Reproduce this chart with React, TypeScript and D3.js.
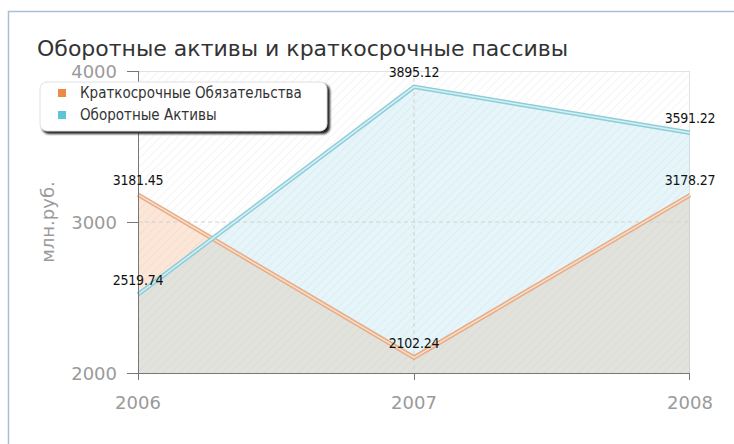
import React from "react";
import * as d3 from "d3";

const years = [2006, 2007, 2008];
const liabilities = [3181.45, 2102.24, 3178.27]; // Краткосрочные Обязательства
const assets = [2519.74, 3895.12, 3591.22]; // Оборотные Активы
const yTicks = [2000, 3000, 4000];
const seriesNames = ["Краткосрочные Обязательства", "Оборотные Активы"];
const title = "Оборотные активы и краткосрочные пассивы";
const yLabel = "млн.руб.";

const W = 734;
const H = 444;
const left = 138, right = 690, top = 71, bottom = 373;

export default function App() {
  const x = d3.scalePoint<number>().domain(years).range([left, right]);
  const y = d3.scaleLinear().domain([2000, 4000]).range([bottom, top]);

  const area = d3
    .area<number>()
    .x((_, i) => x(years[i]) as number)
    .y0(y(2000))
    .y1((d) => y(d));
  const line = d3
    .line<number>()
    .x((_, i) => x(years[i]) as number)
    .y((d) => y(d));

  const series = [
    { name: seriesNames[0], data: liabilities, fill: "#f4b48a", fo: 0.33, stroke: "#e8ac86", inner: "#f8dfcc", sw: "#ee8a48" },
    { name: seriesNames[1], data: assets, fill: "#9ad8e6", fo: 0.26, stroke: "#8ccdda", inner: "#d8f0f5", sw: "#5fc4d8" },
  ];

  const font = "'DejaVu Sans', Verdana, sans-serif";
  const condensed = "'DejaVu Sans Condensed', 'DejaVu Sans', sans-serif";

  return (
    <svg
      width={W}
      height={H}
      style={{ position: "absolute", left: 0, top: 0, display: "block" }}
    >
      <defs>
        <pattern id="hatch" patternUnits="userSpaceOnUse" width="6" height="6" patternTransform="rotate(45)">
          <line x1="0" y1="0" x2="0" y2="6" stroke="#ececec" strokeWidth="1.2" />
        </pattern>
        <filter id="sh" x="-10%" y="-10%" width="130%" height="140%">
          <feGaussianBlur stdDeviation="1" />
        </filter>
      </defs>
      <rect x={0} y={0} width={W} height={H} fill="#fff" />
      {/* frame */}
      <path d={`M8.5,${H} L8.5,11.5 L${W},11.5`} fill="none" stroke="#a9bfd6" strokeWidth={1.5} />

      {/* title */}
      <text x={37} y={56} fontFamily={font} fontSize={22} fill="#333">
        {title}
      </text>

      {/* plot background */}
      <rect x={left} y={top} width={right - left} height={bottom - top} fill="#fff" />
      <rect x={left} y={top} width={right - left} height={bottom - top} fill="url(#hatch)" />
      <line x1={left} x2={right} y1={top + 0.5} y2={top + 0.5} stroke="#e2e2e2" />
      <line x1={right - 0.5} x2={right - 0.5} y1={top} y2={bottom} stroke="#e2e2e2" />

      {/* areas */}
      {series.map((s) => (
        <path key={s.name + "a"} d={area(s.data) || ""} fill={s.fill} fillOpacity={s.fo} />
      ))}

      {/* grid */}
      <line x1={left} x2={right} y1={y(3000)} y2={y(3000)} stroke="#d2d2d2" strokeDasharray="4,3" />
      <line x1={x(2007)} x2={x(2007)} y1={top} y2={bottom} stroke="#d2d2d2" strokeDasharray="4,3" />

      {/* lines */}
      {series.map((s) => (
        <g key={s.name + "l"}>
          <path d={line(s.data) || ""} fill="none" stroke={s.stroke} strokeWidth={4.5} strokeLinejoin="miter" />
          <path d={line(s.data) || ""} fill="none" stroke={s.inner} strokeWidth={1.5} />
        </g>
      ))}

      {/* axes */}
      <line x1={left + 0.5} x2={left + 0.5} y1={top} y2={bottom + 7} stroke="#777" />
      <line x1={left} x2={right} y1={bottom + 0.5} y2={bottom + 0.5} stroke="#777" />
      {yTicks.map((t) => (
        <g key={t}>
          <line x1={left - 11} x2={left} y1={y(t) + 0.5} y2={y(t) + 0.5} stroke="#777" />
          <text x={left - 21} y={y(t) + 7} textAnchor="end" fontFamily={font} fontSize={18} fill="#9a9a9a">
            {t}
          </text>
        </g>
      ))}
      {years.map((yr) => (
        <g key={yr}>
          <line x1={(x(yr) as number) + (yr === 2008 ? -0.5 : 0.5)} x2={(x(yr) as number) + (yr === 2008 ? -0.5 : 0.5)} y1={bottom} y2={bottom + 7} stroke="#777" />
          <text x={x(yr) as number} y={bottom + 36} textAnchor="middle" fontFamily={font} fontSize={18} fill="#9a9a9a">
            {yr}
          </text>
        </g>
      ))}
      <text
        transform={`translate(54,${(top + bottom) / 2}) rotate(-90)`}
        textAnchor="middle"
        fontFamily={font}
        fontSize={18}
        fill="#9a9a9a"
      >
        {yLabel}
      </text>

      {/* value labels */}
      {series.map((s) =>
        s.data.map((v, i) => (
          <text
            key={s.name + i}
            x={x(years[i]) as number}
            y={y(v) - 10}
            textAnchor="middle"
            fontFamily={condensed}
            fontSize={14}
            fill="#111"
            letterSpacing={-0.2}
          >
            {v.toFixed(2)}
          </text>
        ))
      )}

      {/* legend */}
      <g>
        <rect x={42} y={84} width={288} height={50} rx={7} fill="#222" filter="url(#sh)" />
        <rect x={40} y={82} width={287} height={49} rx={7} fill="#fff" stroke="#e0e0e0" />
        {series.map((s, i) => (
          <g key={s.name + "lg"}>
            <rect x={58} y={89 + i * 22} width={8} height={8} fill={s.sw} />
            <text x={80} y={98 + i * 22} fontFamily={condensed} fontSize={15} fill="#333">
              {s.name}
            </text>
          </g>
        ))}
      </g>
    </svg>
  );
}
